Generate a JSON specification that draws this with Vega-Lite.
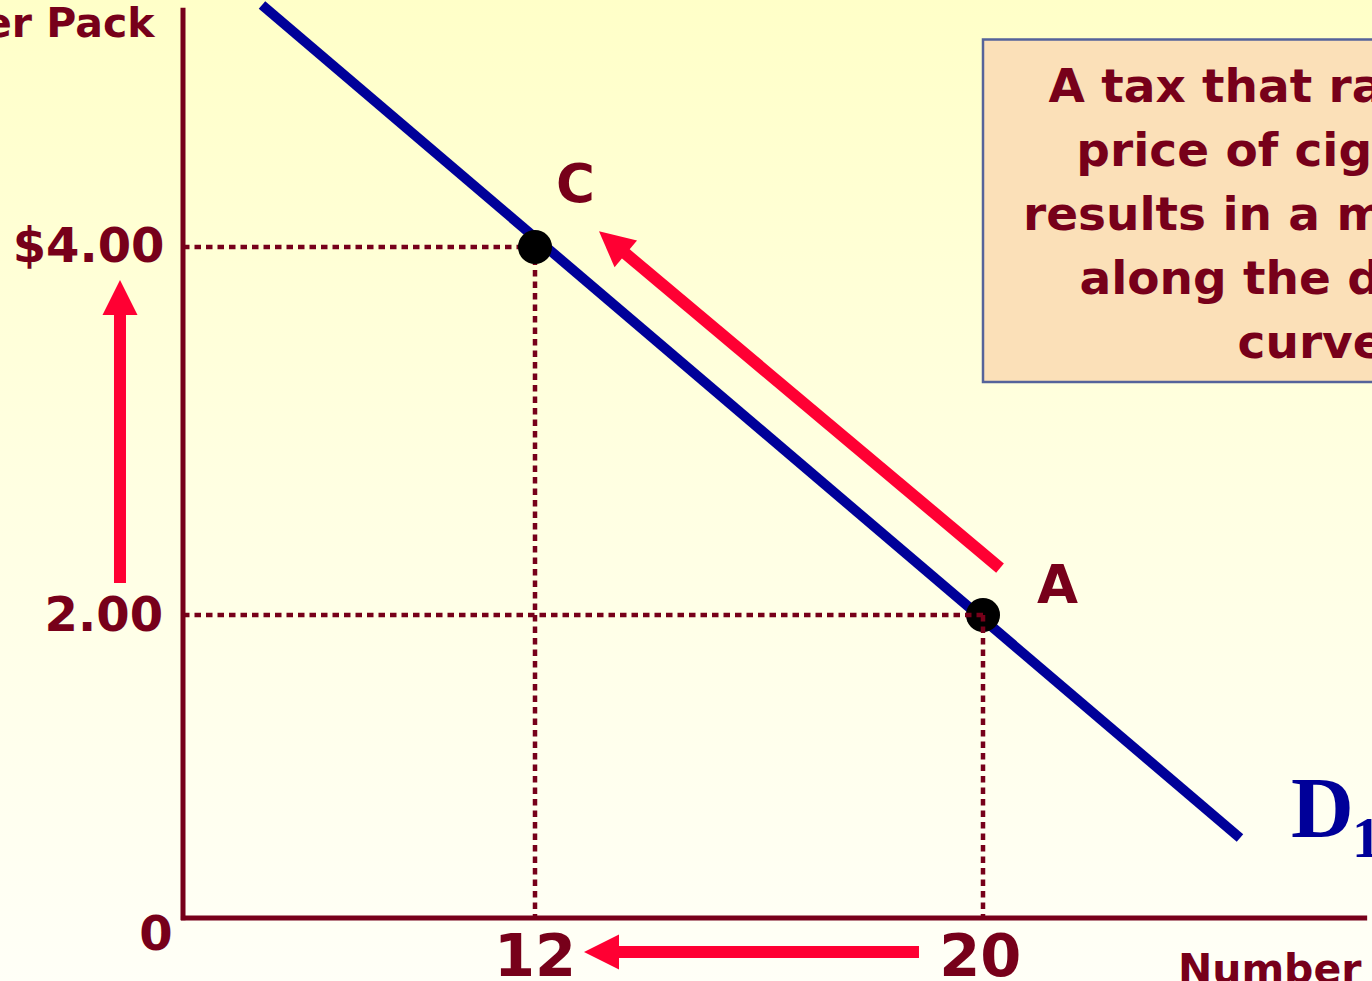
{
  "$schema": "https://vega.github.io/schema/vega-lite/v6.json",
  "width": 1372,
  "height": 981,
  "autosize": {"type": "none"},
  "padding": 0,
  "background": "#FFFFF7",
  "config": {"view": {"stroke": null}},
  "datasets": {
    "slide": [
      {"region": "background", "x": -6.25, "y": -0.42, "x2": 26.96, "y2": 5.345}
    ],
    "frame": [
      {"axis": "price", "x": 0, "y": -0.015, "x2": 0, "y2": 5.3},
      {"axis": "quantity", "x": -0.07, "y": 0, "x2": 26.86, "y2": 0}
    ],
    "guides": [
      {"point": "C", "x": 0, "y": 4, "x2": 12, "y2": 4},
      {"point": "C", "x": 12, "y": 4, "x2": 12, "y2": 0},
      {"point": "A", "x": 0, "y": 2, "x2": 20, "y2": 2},
      {"point": "A", "x": 20, "y": 2, "x2": 20, "y2": 0}
    ],
    "demand": [
      {"curve": "D1", "x": 2.693, "y": 5.315, "x2": 24.589, "y2": 0.528}
    ],
    "points": [
      {"label": "C", "x": 12, "y": 4},
      {"label": "A", "x": 20, "y": 2}
    ],
    "pointLabels": [
      {"label": "C", "x": 12.723, "y": 4.245},
      {"label": "A", "x": 21.33, "y": 2.065}
    ],
    "arrowShafts": [
      {"arrow": "price rises", "x": -2.148, "y": 2.174, "x2": -2.148, "y2": 3.685},
      {"arrow": "quantity falls", "x": 18.857, "y": -0.2244, "x2": 13.339, "y2": -0.2244},
      {"arrow": "movement along curve", "x": 20.304, "y": 2.255, "x2": 13.554, "y2": 3.98}
    ],
    "arrowHeads": [
      {"arrow": "price rises", "x": -2.148, "y": 3.726},
      {"arrow": "quantity falls", "x": 13.1875, "y": -0.2244},
      {"arrow": "movement along curve", "x": 13.382, "y": 4.024}
    ],
    "priceLabels": [
      {"text": "$4.00", "x": -0.63, "y": 3.918},
      {"text": "2.00", "x": -0.68, "y": 1.894}
    ],
    "originLabel": [
      {"text": "0", "x": -0.92, "y": -0.211}
    ],
    "quantityLabels": [
      {"text": "12", "x": 12, "y": -0.383},
      {"text": "20", "x": 19.95, "y": -0.383}
    ],
    "yTitle": [
      {"text": "Price of Cigarettes, per Pack", "x": -0.97, "y": 5.141}
    ],
    "xTitle": [
      {"text": "Number of Cigarettes Smoked per Day", "x": 23.48, "y": -0.429}
    ],
    "box": [
      {"x": 20, "y": 5.128, "x2": 27.3, "y2": 3.266}
    ],
    "boxText": [
      {"text": "A tax that raises the\nprice of cigarettes\nresults in a movement\nalong the demand\ncurve.", "x": 26.018, "y": 4.788}
    ],
    "curveLabel": [
      {"text": "D", "x": 25.5, "y": 0.535}
    ],
    "curveSub": [
      {"text": "1", "x": 26.589, "y": 0.403}
    ]
  },
  "encoding": {
    "x": {"field": "x", "type": "quantitative", "axis": null,
          "scale": {"type": "linear", "domain": [0, 12, 20], "range": [183, 535, 983], "nice": false, "zero": false, "clamp": false}},
    "y": {"field": "y", "type": "quantitative", "axis": null,
          "scale": {"type": "linear", "domain": [0, 2, 4], "range": [918, 615, 247], "nice": false, "zero": false, "clamp": false}}
  },
  "layer": [
    {
      "data": {"name": "slide"},
      "mark": {"type": "rect", "fillOpacity": 1, "strokeWidth": 0,
               "fill": {"gradient": "linear", "x1": 0, "y1": 0, "x2": 0, "y2": 1,
               "stops": [{"offset": 0, "color": "#FFFFC8"}, {"offset": 0.5, "color": "#FFFFE2"}, {"offset": 1, "color": "#FFFFF7"}]}},
      "encoding": {"x2": {"field": "x2"}, "y2": {"field": "y2"}}
    },
    {
      "data": {"name": "box"},
      "mark": {"type": "rect", "fill": "#FBE0B8", "stroke": "#55639A", "strokeWidth": 2.5},
      "encoding": {"x2": {"field": "x2"}, "y2": {"field": "y2"}}
    },
    {
      "data": {"name": "boxText"},
      "mark": {"type": "text", "font": "DejaVu Sans", "fontWeight": "bold", "fontSize": 47, "color": "#77001A",
               "align": "center", "baseline": "alphabetic", "lineBreak": "\n", "lineHeight": 64},
      "encoding": {"text": {"field": "text"}}
    },
    {
      "data": {"name": "frame"},
      "mark": {"type": "rule", "color": "#77001A", "strokeWidth": 5},
      "encoding": {"x2": {"field": "x2"}, "y2": {"field": "y2"}}
    },
    {
      "data": {"name": "guides"},
      "transform": [{"filter": "datum.point == 'C'"}],
      "mark": {"type": "rule", "color": "#77001A", "strokeWidth": 4.5, "strokeDash": [6.5, 5]},
      "encoding": {"x2": {"field": "x2"}, "y2": {"field": "y2"}}
    },
    {
      "data": {"name": "demand"},
      "mark": {"type": "rule", "color": "#000099", "strokeWidth": 10},
      "encoding": {"x2": {"field": "x2"}, "y2": {"field": "y2"}}
    },
    {
      "data": {"name": "arrowShafts"},
      "mark": {"type": "rule", "color": "#FF0033", "strokeWidth": 12},
      "encoding": {"x2": {"field": "x2"}, "y2": {"field": "y2"}}
    },
    {
      "data": {"name": "arrowHeads"},
      "transform": [{"filter": "datum.arrow == 'price rises'"}],
      "mark": {"type": "point", "shape": "M0,-1L1,1L-1,1Z", "size": 1225, "filled": true, "opacity": 1, "color": "#FF0033", "strokeWidth": 0, "angle": 0}
    },
    {
      "data": {"name": "arrowHeads"},
      "transform": [{"filter": "datum.arrow == 'quantity falls'"}],
      "mark": {"type": "point", "shape": "M0,-1L1,1L-1,1Z", "size": 1225, "filled": true, "opacity": 1, "color": "#FF0033", "strokeWidth": 0, "angle": 270}
    },
    {
      "data": {"name": "arrowHeads"},
      "transform": [{"filter": "datum.arrow == 'movement along curve'"}],
      "mark": {"type": "point", "shape": "M0,-1L1,1L-1,1Z", "size": 1225, "filled": true, "opacity": 1, "color": "#FF0033", "strokeWidth": 0, "angle": 310}
    },
    {
      "data": {"name": "points"},
      "mark": {"type": "circle", "size": 1160, "color": "#000000", "opacity": 1}
    },
    {
      "data": {"name": "guides"},
      "transform": [{"filter": "datum.point == 'A'"}],
      "mark": {"type": "rule", "color": "#77001A", "strokeWidth": 4.5, "strokeDash": [6.5, 5]},
      "encoding": {"x2": {"field": "x2"}, "y2": {"field": "y2"}}
    },
    {
      "data": {"name": "pointLabels"},
      "mark": {"type": "text", "font": "DejaVu Sans", "fontWeight": "bold", "fontSize": 53, "color": "#77001A", "align": "center", "baseline": "alphabetic"},
      "encoding": {"text": {"field": "label"}}
    },
    {
      "data": {"name": "priceLabels"},
      "mark": {"type": "text", "font": "DejaVu Sans", "fontWeight": "bold", "fontSize": 48, "color": "#77001A", "align": "right", "baseline": "alphabetic"},
      "encoding": {"text": {"field": "text"}}
    },
    {
      "data": {"name": "originLabel"},
      "mark": {"type": "text", "font": "DejaVu Sans", "fontWeight": "bold", "fontSize": 48, "color": "#77001A", "align": "center", "baseline": "alphabetic"},
      "encoding": {"text": {"field": "text"}}
    },
    {
      "data": {"name": "quantityLabels"},
      "mark": {"type": "text", "font": "DejaVu Sans", "fontWeight": "bold", "fontSize": 59, "color": "#77001A", "align": "center", "baseline": "alphabetic"},
      "encoding": {"text": {"field": "text"}}
    },
    {
      "data": {"name": "yTitle"},
      "mark": {"type": "text", "font": "DejaVu Sans", "fontWeight": "bold", "fontSize": 41, "color": "#77001A", "align": "right", "baseline": "alphabetic"},
      "encoding": {"text": {"field": "text"}}
    },
    {
      "data": {"name": "xTitle"},
      "mark": {"type": "text", "font": "DejaVu Sans", "fontWeight": "bold", "fontSize": 41, "color": "#77001A", "align": "left", "baseline": "alphabetic"},
      "encoding": {"text": {"field": "text"}}
    },
    {
      "data": {"name": "curveLabel"},
      "mark": {"type": "text", "font": "Liberation Serif", "fontWeight": "bold", "fontSize": 87, "color": "#000099", "align": "left", "baseline": "alphabetic"},
      "encoding": {"text": {"field": "text"}}
    },
    {
      "data": {"name": "curveSub"},
      "mark": {"type": "text", "font": "Liberation Serif", "fontWeight": "bold", "fontSize": 58, "color": "#000099", "align": "left", "baseline": "alphabetic"},
      "encoding": {"text": {"field": "text"}}
    }
  ]
}
